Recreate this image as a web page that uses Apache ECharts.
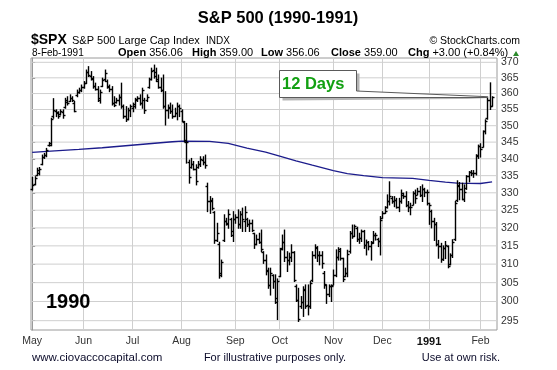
<!DOCTYPE html>
<html><head><meta charset="utf-8">
<script src="https://cdn.jsdelivr.net/npm/echarts@6/dist/echarts.min.js"></script>
<style>html,body{margin:0;padding:0;background:#fff}#c{width:557px;height:370px}</style>
</head><body><div id="c"></div>
<script>
// ---- data ----
const monthStarts = [0,22,43,64,87,106,129,150,170,192];
const monthLabels = ['May','Jun','Jul','Aug','Sep','Oct','Nov','Dec','1991','Feb'];
const priceTicks = [295,300,305,310,315,320,325,330,335,340,345,350,355,360,365,370];

const opens = [
331.2,332.5,335.2,335.8,338.5,340.5,341.0,344.0,344.2,353.0,
354.5,354.0,353.5,354.2,355.8,357.5,357.8,358.5,357.0,359.5,
360.6,361.0,362.0,363.5,366.8,365.5,364.5,362.5,361.5,358.0,
362.5,364.5,364.0,362.0,361.5,357.0,357.5,358.0,359.0,356.0,
353.0,352.0,355.0,355.5,356.0,358.2,358.6,357.0,358.0,358.0,
362.0,364.5,367.5,367.0,364.0,362.0,361.0,356.0,355.0,355.5,
354.5,353.0,354.0,356.0,354.5,351.0,345.0,339.0,337.5,338.5,
337.0,337.5,338.5,339.5,339.0,332.0,327.5,327.5,324.5,316.5,
315.5,307.0,316.5,322.0,321.0,322.5,318.0,322.5,323.0,321.0,
324.0,322.0,322.5,321.0,321.5,318.5,315.5,317.0,316.0,313.4,
311.0,308.0,304.5,307.0,305.5,300.0,306.8,314.5,316.0,312.0,
311.0,312.0,313.4,304.0,300.5,298.8,300.0,303.0,299.0,298.8,
305.8,312.5,314.5,312.4,312.6,307.5,304.4,302.0,304.0,304.5,
307.0,312.0,314.0,311.6,306.8,307.6,313.5,318.5,317.7,320.0,
317.0,317.1,319.0,315.3,316.0,315.0,316.0,318.0,317.0,316.4,
322.7,324.2,326.0,327.5,328.5,327.5,328.0,326.0,327.5,329.5,
329.0,326.5,325.8,326.6,330.0,329.5,330.5,329.5,331.0,330.2,
327.0,324.8,321.9,321.0,315.4,315.0,311.5,314.5,315.0,309.9,
312.5,316.8,328.0,332.0,331.0,328.3,331.5,334.8,336.0,335.8,
335.8,341.0,343.9,343.5,348.3,352.5,358.0,356.06];

const highs = [
334.5,334.7,337.2,337.4,341.1,341.6,343.1,344.9,352.3,358.4,
354.9,354.3,354.9,354.9,358.5,359.0,359.6,359.0,357.5,361.1,
361.7,362.7,363.8,367.5,368.6,367.0,365.4,363.3,362.2,361.1,
364.9,367.5,364.3,362.7,362.2,359.0,358.5,359.6,363.3,356.4,
355.9,355.4,356.4,357.0,358.5,359.0,359.6,361.7,358.5,359.6,
364.9,368.1,369.1,368.1,365.9,364.9,365.9,360.6,356.4,357.0,
356.4,355.4,357.0,356.4,354.9,351.3,350.7,339.6,340.1,339.2,
338.2,339.2,340.6,340.6,341.1,332.8,328.9,328.4,324.6,321.3,
316.0,311.1,323.7,322.7,325.1,322.7,324.6,323.7,325.1,324.6,
325.6,326.0,322.7,322.2,322.2,318.5,318.0,318.5,319.4,313.4,
312.5,308.9,308.9,307.1,307.1,306.0,314.3,318.0,319.4,313.4,
313.0,315.3,313.4,304.4,303.5,301.3,303.9,304.4,304.4,305.3,
313.4,315.3,314.8,313.4,313.4,308.0,304.4,304.4,304.4,308.4,
313.9,314.5,314.3,311.6,308.9,313.8,319.0,320.8,320.8,320.2,
318.5,319.4,319.3,316.6,316.2,316.2,319.0,318.5,317.1,323.2,
324.6,326.0,329.4,333.2,328.9,328.9,328.4,328.4,330.8,329.9,
330.3,327.5,327.0,330.3,330.8,331.3,331.8,332.3,331.3,330.8,
327.0,325.0,322.7,321.5,316.5,315.7,315.0,316.2,315.0,312.8,
316.7,327.5,333.5,333.0,332.8,332.3,335.0,336.2,336.5,336.5,
341.2,344.1,344.5,348.4,351.8,358.5,363.4,359.0];

const lows = [
330.8,332.3,335.0,335.2,338.2,340.1,340.6,343.8,343.9,352.3,
352.8,352.3,353.3,352.3,355.4,356.4,357.5,357.5,354.3,359.0,
360.1,360.6,361.7,363.2,365.4,364.3,361.7,361.1,357.5,357.0,
362.2,363.8,361.7,360.6,356.4,355.9,357.0,356.4,355.4,352.3,
351.3,351.8,352.8,354.3,355.4,357.5,356.4,355.4,353.8,357.5,
361.7,364.3,364.9,363.8,361.7,360.6,355.4,350.2,352.3,353.8,
352.3,352.8,351.8,352.8,351.3,345.1,338.7,332.8,337.2,336.7,
332.3,337.2,337.7,338.2,337.2,324.6,324.1,325.1,315.7,316.2,
306.2,306.6,316.2,320.8,319.9,317.6,316.2,321.3,319.9,319.9,
319.0,319.0,320.4,319.0,319.0,314.3,315.3,315.7,313.4,310.2,
307.1,303.5,301.7,303.5,299.5,295.3,306.6,313.9,310.7,308.0,
309.8,310.7,305.3,300.0,294.8,298.2,296.1,298.2,296.5,298.2,
305.3,311.6,310.7,309.8,308.9,303.5,299.5,301.3,300.0,304.4,
306.6,311.1,311.1,305.3,306.6,306.6,313.0,317.1,317.6,316.2,
315.7,316.2,314.3,312.5,313.9,311.1,315.7,316.6,314.8,312.5,
322.7,324.1,325.6,326.5,327.0,326.0,325.6,324.6,327.0,328.4,
326.0,324.6,323.7,326.5,327.0,329.4,328.9,327.5,328.9,326.5,
321.0,320.0,316.5,315.0,311.6,310.5,311.0,311.5,309.0,309.8,
311.8,316.5,327.5,328.0,328.0,327.5,331.0,333.2,335.0,334.5,
335.2,340.1,340.5,343.5,347.5,352.0,355.0,356.06];

const closes = [
332.3,334.4,336.8,337.0,340.5,341.2,342.5,344.6,352.0,354.7,
354.3,353.0,354.5,353.2,358.0,357.0,358.6,358.0,354.6,360.6,
361.0,362.0,363.2,367.0,366.0,364.8,362.5,361.6,358.5,360.5,
364.3,366.5,362.5,361.5,357.0,356.5,358.0,359.0,356.0,353.0,
352.0,355.0,356.0,356.8,358.0,358.7,357.0,361.0,355.0,359.0,
364.5,367.3,365.5,364.5,362.0,361.0,356.0,355.0,355.8,354.5,
353.0,354.0,356.0,355.5,351.5,345.5,344.9,334.5,338.5,337.0,
333.5,338.5,340.0,339.0,338.0,327.5,327.8,325.5,316.5,318.5,
307.5,310.5,322.0,321.3,324.0,319.0,322.5,323.2,321.0,324.0,
322.5,324.5,321.0,321.5,319.5,315.5,317.0,316.0,314.0,311.0,
308.5,304.5,307.5,305.5,300.8,305.5,314.0,316.0,312.0,311.0,
312.0,313.4,305.8,300.5,295.5,300.0,303.2,298.9,298.8,305.0,
312.5,314.8,312.4,312.6,310.2,304.7,301.9,304.1,304.0,307.0,
311.9,313.5,311.6,306.0,307.6,312.8,318.5,317.7,320.4,317.0,
317.1,319.0,315.3,316.0,315.1,315.8,318.1,318.0,316.4,322.2,
324.1,324.9,327.7,329.0,327.5,328.0,326.0,327.5,330.0,329.0,
326.5,325.8,326.0,330.0,328.5,330.5,329.5,331.0,330.2,330.2,
326.4,321.9,321.0,315.4,314.9,311.5,314.5,315.2,309.4,312.5,
316.2,327.0,332.2,331.1,328.3,330.2,334.8,336.0,335.8,335.8,
340.9,343.9,343.0,348.3,351.3,358.0,356.0,359.0];

// 200-day moving average, read at sampled trading days
const maDays   = [0,8,20,30,40,50,60,64,76,84,92,100,106,113,120,129,135,142,150,163,170,177,182,192,197];
const maValues = [341.9,342.3,342.8,343.3,343.9,344.5,345.1,345.3,345.2,344.6,343.2,342.0,340.8,339.4,338.1,336.5,335.6,335.0,334.4,334.2,333.6,333.1,332.8,332.7,333.2];

// ---- chart ----
const FONT = "'Liberation Sans', Arial, Helvetica, sans-serif";
const L = Math.log;
const X_MIN = -0.5, X_MAX = 199.1;
const ohlc = opens.map((o, i) => [i, L(o), L(highs[i]), L(lows[i]), L(closes[i])]);
const ma = maDays.map((d, i) => [d, L(maValues[i])]);
const tickLn = priceTicks.map(L);

const chart = echarts.init(document.getElementById('c'), null, {renderer: 'canvas'});
const GL = 31, GT = 58, GW = 466, GH = 272;
const GRIDC = '#cfcfcf';

// horizontal price grid lines as plain line series, one per tick value
const gridSeries = tickLn.map(v => ({
  type: 'line', silent: true, z: 1, symbol: 'none', showSymbol: false,
  data: [[X_MIN, v], [X_MAX, v]],
  lineStyle: {color: GRIDC, width: 1}
}));

chart.setOption({
  animation: false,
  backgroundColor: '#fff',
  grid: {left: GL, top: GT, width: GW, height: GH, show: true, borderColor: '#9a9a9a', borderWidth: 1},
  xAxis: {
    type: 'value', min: X_MIN, max: X_MAX,
    axisLine: {show: false},
    axisTick: {show: false, customValues: monthStarts},
    splitLine: {show: true, lineStyle: {color: GRIDC, width: 1}},
    axisLabel: {
      customValues: monthStarts, margin: 6, fontSize: 10.5, color: '#333', fontFamily: FONT,
      formatter: function (v) {
        const k = monthStarts.indexOf(Math.round(v));
        const s = k >= 0 ? monthLabels[k] : '';
        return s === '1991' ? '{b|1991}' : s;
      },
      rich: {b: {fontWeight: 'bold', fontSize: 11, color: '#111', fontFamily: FONT}}
    }
  },
  yAxis: {
    type: 'value', position: 'right', min: L(292.6), max: L(371.4),
    axisLine: {show: true, lineStyle: {color: '#9a9a9a'}},
    axisTick: {show: true, customValues: tickLn, length: 3, lineStyle: {color: '#888'}},
    splitLine: {show: false},
    axisLabel: {customValues: tickLn, margin: 4, fontSize: 10.5, color: '#333', fontFamily: FONT,
      formatter: v => String(Math.round(Math.exp(v)))}
  },
  series: gridSeries.concat([{
    type: 'line', data: ma, showSymbol: false, symbol: 'none', z: 2,
    lineStyle: {color: '#1c1c8c', width: 1.3}
  }, {
    type: 'custom', data: ohlc, z: 3,
    encode: {x: 0, y: [1, 2, 3, 4]},
    renderItem: function (params, api) {
      const x = api.value(0);
      const o = api.coord([x, api.value(1)]);
      const h = api.coord([x, api.value(2)]);
      const lo = api.coord([x, api.value(3)]);
      const c = api.coord([x, api.value(4)]);
      const cx = Math.round(o[0]) + 0.5;
      const st = {stroke: '#000', lineWidth: 1.4};
      return {type: 'group', children: [
        {type: 'line', shape: {x1: cx, y1: h[1] - 0.5, x2: cx, y2: lo[1] + 0.5}, style: st},
        {type: 'line', shape: {x1: cx - 2, y1: Math.round(o[1]) + 0.5, x2: cx, y2: Math.round(o[1]) + 0.5}, style: st},
        {type: 'line', shape: {x1: cx, y1: Math.round(c[1]) + 0.5, x2: cx + 2, y2: Math.round(c[1]) + 0.5}, style: st}
      ]};
    }
  }])
});

// callout tip anchored to the data
const tip = chart.convertToPixel({gridIndex: 0}, [195.2, L(closes[closes.length - 1])]);
const bx0 = 279.5, by0 = 70.5, bx1 = 356.5, by1 = 97.5, tailTop = 91;

function txt(x, y, text, size, weight, align, fill, extra) {
  return {type: 'text', x: x, y: y, z: 100,
    style: Object.assign({text: text, fontSize: size, fontWeight: weight || 'normal', fontFamily: FONT,
      fill: fill || '#000', textAlign: align || 'left', textVerticalAlign: 'middle'}, extra || {})};
}
const richB = {rich: {b: {fontWeight: 'bold', fontSize: 11, fontFamily: FONT}}};

chart.setOption({
  graphic: [
    txt(278, 18.5, 'S&P 500 (1990-1991)', 16.5, 'bold', 'center', '#000'),
    txt(31, 40.5, '$SPX', 14, 'bold', 'left', '#000'),
    txt(72, 40.8, 'S&P 500 Large Cap Index', 11, 'normal', 'left', '#000'),
    txt(206, 41, 'INDX', 10, 'normal', 'left', '#000'),
    txt(520, 40.8, '\u00A9 StockCharts.com', 10.5, 'normal', 'right', '#000'),
    txt(32, 52.8, '8-Feb-1991', 10, 'normal', 'left', '#000'),
    txt(118, 52.8, '{b|Open} 356.06', 11, 'normal', 'left', '#000', richB),
    txt(192, 52.8, '{b|High} 359.00', 11, 'normal', 'left', '#000', richB),
    txt(261, 52.8, '{b|Low} 356.06', 11, 'normal', 'left', '#000', richB),
    txt(331, 52.8, '{b|Close} 359.00', 11, 'normal', 'left', '#000', richB),
    txt(408, 52.8, '{b|Chg} +3.00 (+0.84%)', 11, 'normal', 'left', '#000', richB),
    {type: 'polygon', z: 100, shape: {points: [[513, 56], [519, 56], [516, 51]]}, style: {fill: '#2b8a2b'}},
    {type: 'polygon', z: 98, shape: {points: [[bx0 + 3, by0 + 3], [bx1 + 3, by0 + 3], [bx1 + 3, tailTop + 3], [tip[0], tip[1] + 2], [bx0 + 3, by1 + 3]]},
      style: {fill: '#b4b4b4'}},
    {type: 'polygon', z: 99, shape: {points: [[bx0, by0], [bx1, by0], [bx1, tailTop], [tip[0], tip[1]], [tip[0], by1], [bx0, by1]]},
      style: {fill: '#fff', stroke: '#5a5a5a', lineWidth: 1}},
    txt(282, 84, '12 Days', 16.5, 'bold', 'left', '#12a012'),
    txt(46, 302, '1990', 20, 'bold', 'left', '#000'),
    txt(32, 357.5, 'www.ciovaccocapital.com', 11.5, 'normal', 'left', '#0b0b2a'),
    txt(275, 357.5, 'For illustrative purposes only.', 11, 'normal', 'center', '#0b0b2a'),
    txt(500, 357.5, 'Use at own risk.', 11, 'normal', 'right', '#0b0b2a')
  ]
});
</script>
</body></html>
